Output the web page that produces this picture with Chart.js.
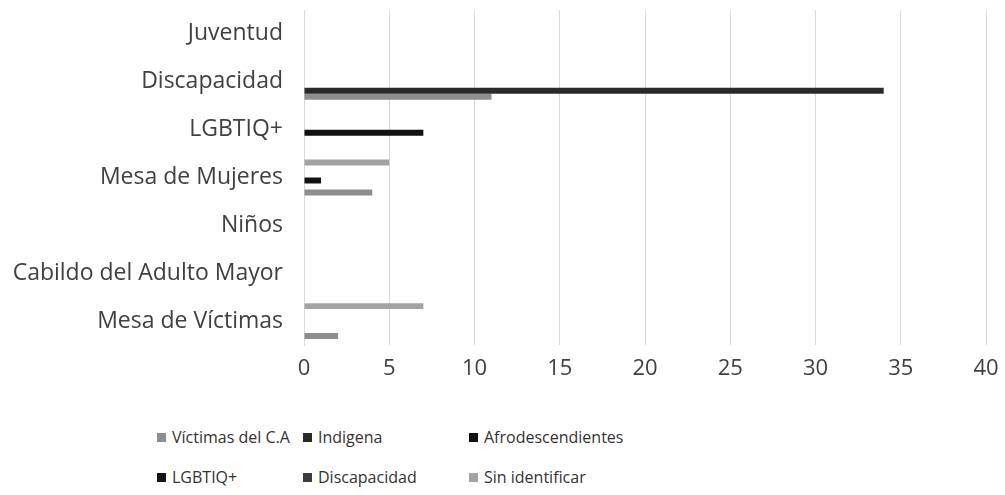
<!DOCTYPE html>
<html>
<head>
<meta charset="utf-8">
<script src="https://cdn.jsdelivr.net/npm/chart.js@4/dist/chart.umd.min.js"></script>
<style>
  body { margin: 0; background: #fff; }
  #wrap { position: relative; width: 1005px; height: 395px; }
  #legend { position: relative; width: 1005px; height: 100px; font-family: "Open Sans", sans-serif; font-size: 16px; color: #333; }
  .item { position: absolute; display: flex; align-items: center; white-space: nowrap; }
  .box { width: 9px; height: 9px; margin-right: 6px; }
</style>
</head>
<body>
<div id="wrap"><canvas id="myChart"></canvas></div>
<div id="legend"></div>
<script>
var categories = ['Juventud', 'Discapacidad', 'LGBTIQ+', 'Mesa de Mujeres', 'Niños', 'Cabildo del Adulto Mayor', 'Mesa de Víctimas'];

var victimas = [0, 11, 0, 4, 0, 0, 2];
var indigena = [0, 34, 0, 0, 0, 0, 0];
var afro = [0, 0, 7, 1, 0, 0, 0];
var lgbtiq = [0, 0, 0, 0, 0, 0, 0];
var discapacidad = [0, 0, 0, 0, 0, 0, 0];
var sinIdentificar = [0, 0, 0, 5, 0, 0, 7];

var seriesNames = ['Víctimas del C.A', 'Indigena', 'Afrodescendientes', 'LGBTIQ+', 'Discapacidad', 'Sin identificar'];
var seriesData = [victimas, indigena, afro, lgbtiq, discapacidad, sinIdentificar];
var seriesColors = ['#8e8e8e', '#2a2a2a', '#111111', '#151515', '#3c3c3c', '#a3a3a3'];

// excel puts the last series on top, so build datasets backwards
var datasets = [];
for (var i = seriesNames.length - 1; i >= 0; i--) {
  datasets.push({
    label: seriesNames[i],
    data: seriesData[i],
    backgroundColor: seriesColors[i],
    barPercentage: 1,
    categoryPercentage: 0.75
  });
}

var ctx = document.getElementById('myChart').getContext('2d');
var myChart = new Chart(ctx, {
  type: 'bar',
  data: { labels: categories, datasets: datasets },
  options: {
    indexAxis: 'y',
    responsive: true,
    maintainAspectRatio: false,
    animation: false,
    layout: { padding: { top: 10, right: 19 } },
    plugins: { legend: { display: false }, tooltip: { enabled: false } },
    scales: {
      x: {
        min: 0, max: 40,
        ticks: { stepSize: 5, color: '#404040', padding: 11, font: { family: 'Open Sans', size: 22 } },
        grid: { color: '#d9d9d9', drawTicks: false },
        border: { display: false },
        afterFit: function(scale) { scale.height = 50; scale.paddingLeft = 0; scale.paddingRight = 0; }
      },
      y: {
        ticks: { color: '#404040', padding: 13, font: { family: 'Open Sans', size: 23 } },
        grid: { display: false },
        border: { color: '#d9d9d9' },
        afterFit: function(scale) { scale.width = 304; scale.paddingTop = 0; scale.paddingBottom = 0; }
      }
    }
  }
});

// legend laid out in excel's fixed columns
var legendPos = [[157, 438], [303, 438], [469, 438], [157, 478], [303, 478], [469, 478]];
var legend = document.getElementById('legend');
for (var j = 0; j < seriesNames.length; j++) {
  var it = document.createElement('div');
  it.className = 'item';
  it.style.left = legendPos[j][0] + 'px';
  it.style.top = (legendPos[j][1] - 395 - 12) + 'px';
  it.innerHTML = '<span class="box" style="background:' + seriesColors[j] + '"></span>' + seriesNames[j];
  legend.appendChild(it);
}
</script>
</body>
</html>
